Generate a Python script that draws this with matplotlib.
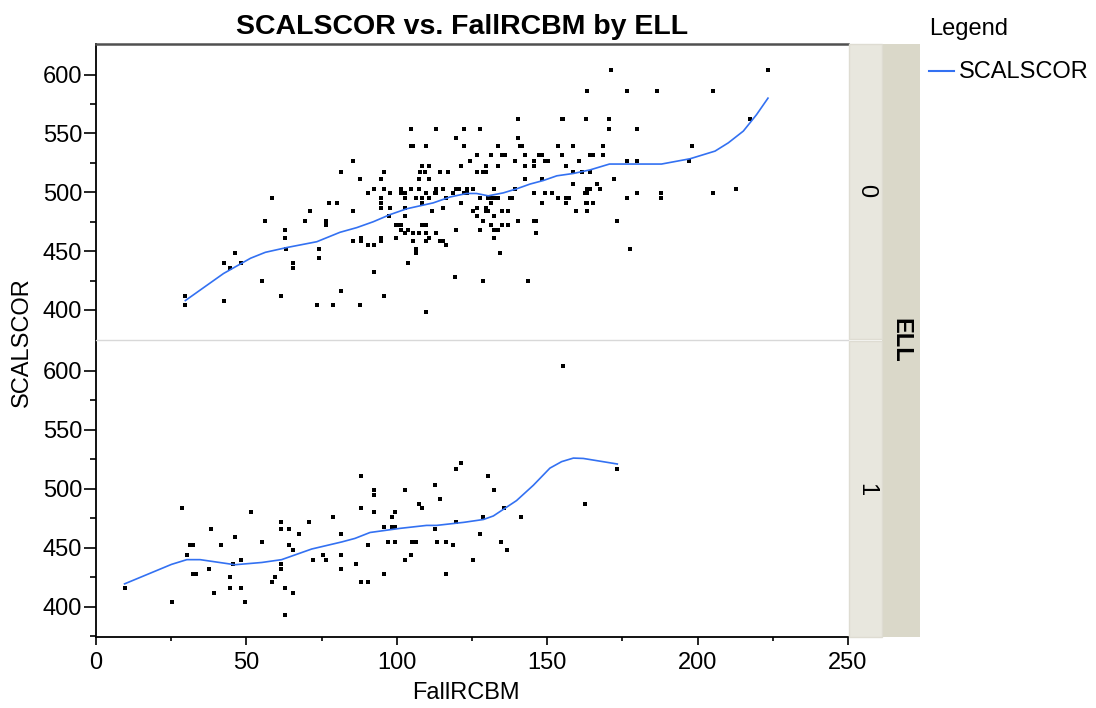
import numpy as np
import matplotlib.pyplot as plt
from matplotlib.ticker import MultipleLocator, FixedLocator
from matplotlib.patches import Rectangle

plt.rcParams['font.family'] = ['Liberation Sans', 'DejaVu Sans']

# ELL = 0 : SCALSCOR levels and the FallRCBM values at each level
y0_levels = [604, 586, 562, 554, 546, 539, 532, 527, 522, 517, 511, 507, 503, 499,
             495, 491, 487, 484, 480, 476, 472, 468, 465, 461, 459, 455, 452, 448,
             444, 440, 436, 432, 428, 425, 416, 412, 408, 404, 398]
x0_rows = [
    [171.2, 223.4],
    [163.2, 176.5, 186.6, 205.2],
    [140.4, 154.8, 155.3, 162.8, 170.7, 217.5],
    [104.7, 113.1, 122.3, 127.7, 170.7, 179.7],
    [119.7, 140.4],
    [104.7, 105.3, 109.6, 122.3, 133.5, 140.9, 141.5, 153.7, 158.5, 168.6, 198.3],
    [126.5, 131.3, 134.9, 135.9, 142.5, 147.3, 148.4, 154.8, 164.2, 165.3, 168.6],
    [85.5, 124.4, 139.3, 145.7, 149.4, 150.4, 160.6, 176.5, 179.7, 197.2],
    [108.5, 110.6, 121.2, 129.8, 133.5, 142.5, 145.7, 156.3],
    [81.3, 95.6, 107.7, 109.3, 114.4, 117.1, 126.5, 128.6, 129.8, 158.5, 161.7, 164.1],
    [87.7, 94.6, 107.4, 110.6, 142.5, 148.4, 172.3],
    [158.5, 166.4],
    [92.5, 95.6, 101.5, 104.7, 107.4, 113.1, 115.4, 119.7, 120.7, 123.3, 125.4, 132.4,
     139.3, 163.2, 164.2, 167.5, 212.6],
    [90.4, 97.6, 101.5, 102.6, 109.6, 112.6, 113.1, 118.6, 122.3, 123.3, 145.7, 149.4,
     151.6, 162.7, 163.2, 179.7, 187.7, 205.2],
    [58.4, 94.6, 102.6, 106.4, 108.5, 110.6, 116.5, 127.7, 130.4, 131.3, 132.4, 133.5,
     137.6, 138.2, 153.7, 156.3, 157.4, 176.5, 187.7],
    [77.6, 80.2, 94.6, 108.5, 121.2, 131.3, 148.4, 156.3, 162.8, 163.2, 165.3],
    [94.6, 97.6, 102.6, 115.4, 126.5, 129.7],
    [71.2, 85.5, 111.7, 125.4, 129.8, 130.4, 134.9, 137.0, 159.6, 163.2],
    [97.3, 102.6, 126.5, 132.4],
    [56.3, 69.6, 76.6, 128.6, 140.4, 145.7, 146.3, 173.3],
    [76.6, 99.6, 100.6, 101.5, 108.5, 109.6, 131.3, 134.9, 137.0],
    [62.7, 101.5, 103.7, 119.7, 127.7, 132.4, 133.5],
    [102.6, 105.3, 107.4, 109.6, 113.1, 146.3],
    [62.7, 88.2, 94.6, 99.6, 110.6, 132.4],
    [85.5, 88.2, 94.6, 105.3, 109.6, 114.3, 115.4],
    [90.4, 92.5, 116.5],
    [63.3, 74.3, 106.4, 177.5],
    [46.2, 106.4, 134.4],
    [74.3],
    [42.4, 48.3, 65.4, 103.7],
    [44.5, 65.4],
    [92.5],
    [119.4],
    [55.2, 128.6, 143.6],
    [81.3],
    [29.7, 61.6, 95.8],
    [42.4],
    [29.7, 73.4, 78.7, 87.7],
    [109.6],
]

# ELL = 1
y1_levels = [604, 522, 517, 511, 503, 499, 495, 491, 487, 484, 480, 476, 472, 468,
             466, 462, 459, 455, 452, 448, 444, 440, 436, 432, 428, 425, 421, 416,
             412, 404, 393]
x1_rows = [
    [155.1],
    [121.2],
    [119.6, 173.3],
    [88.2, 130.2],
    [112.7],
    [92.4, 102.6, 132.4],
    [92.4],
    [114.4],
    [107.4, 162.7],
    [28.6, 88.2, 108.5, 135.6],
    [51.5, 92.4, 99.4],
    [78.7, 98.3, 128.7, 141.4],
    [61.6, 70.7, 119.6],
    [95.6, 98.3, 99.4],
    [38.2, 61.6, 64.3, 112.7],
    [67.5, 81.3, 127.5],
    [46.2],
    [55.2, 97.2, 99.4, 105.2, 106.4, 113.2, 116.5, 134.5],
    [31.3, 32.3, 41.5, 64.3, 90.3, 118.6],
    [65.4, 136.6],
    [30.3, 75.5, 81.3, 104.7],
    [48.3, 72.2, 76.6, 102.6, 125.4],
    [45.6, 61.6, 86.6],
    [37.7, 61.6, 81.3],
    [32.3, 33.4, 95.6, 116.5],
    [44.5, 59.5],
    [58.4, 88.2, 90.3],
    [9.5, 44.5, 48.3, 62.7],
    [39.2, 65.4],
    [25.4, 49.4],
    [62.7],
]

# smoother curves
cx0 = [29.7, 42.4, 51.4, 56.3, 63.3, 73.4, 81.1, 86.7, 92.2, 97.7, 103.3, 112.1, 117.7,
       123.2, 126.5, 130.4, 135.4, 139.9, 144.3, 148.7, 153.2, 158.7, 164.2, 170.7,
       188.0, 197.5, 205.8, 210.2, 215.2, 219.6, 223.4]
cy0 = [408, 431, 444, 449, 453, 458, 466, 470, 475, 481, 486, 491, 496, 499, 499, 497,
       499.5, 503, 507, 510, 514, 516, 519, 524, 524, 528.5, 535, 542, 552, 566, 580]
cx1 = [9.5, 25.1, 30.2, 34.6, 46.2, 55.1, 61.7, 71.7, 81.7, 86.1, 91.1, 101.1, 109.9,
       113.2, 122.3, 128.8, 132.1, 139.8, 145.4, 150.9, 154.8, 158.7, 162.0, 173.3]
cy1 = [419.5, 436, 440, 440, 435.7, 437.6, 440, 449, 455, 458, 463, 466.5, 469, 469,
       471.6, 474, 477, 490, 503, 517.5, 523, 526, 525.7, 521]

x0 = np.concatenate(x0_rows)
y0 = np.repeat(y0_levels, [len(r) for r in x0_rows])
x1 = np.concatenate(x1_rows)
y1 = np.repeat(y1_levels, [len(r) for r in x1_rows])

W, H = 1096, 708
fig = plt.figure(figsize=(W / 100, H / 100), dpi=100)

def fx(px):
    return px / W

def fy(py):
    return 1 - py / H

ax0 = fig.add_axes([fx(96), fy(340), fx(848) - fx(96), fy(44) - fy(340)])
ax1 = fig.add_axes([fx(96), fy(637), fx(848) - fx(96), fy(340) - fy(637)], sharex=ax0)

line_col = '#3371F2'
fs = 17
for ax, xs, ys, cx, cy in [(ax0, x0, y0, cx0, cy0), (ax1, x1, y1, cx1, cy1)]:
    ax.plot(xs, ys, 's', color='black', markersize=2.4, markeredgewidth=0)
    ax.plot(cx, cy, color=line_col, lw=1.2)
    ax.set_ylim(374.5, 626)
    ax.set_xlim(0, 250)
    ax.yaxis.set_major_locator(MultipleLocator(50))
    ax.xaxis.set_major_locator(MultipleLocator(50))
    ax.xaxis.set_minor_locator(MultipleLocator(25))
    ax.tick_params(axis='y', which='major', direction='out', length=9, width=1.2,
                   pad=1, labelsize=fs)
    ax.tick_params(axis='y', which='minor', direction='out', length=4.5, width=1.2)
    ax.tick_params(axis='x', which='major', direction='out', length=6, width=1.2,
                   pad=5, labelsize=fs)
    ax.tick_params(axis='x', which='minor', direction='out', length=3, width=1.2)
    ax.spines['right'].set_visible(False)
    ax.spines['left'].set_linewidth(1.3)

ax0.yaxis.set_minor_locator(FixedLocator([425, 475, 525, 575]))
ax1.yaxis.set_minor_locator(FixedLocator([375, 425, 475, 525, 575]))

ax0.spines['top'].set_linewidth(1.8)
ax0.spines['top'].set_color('#505050')
ax0.spines['bottom'].set_visible(False)
ax0.tick_params(axis='x', which='both', bottom=False, labelbottom=False)
ax1.spines['top'].set_color('#D8D8D8')
ax1.spines['top'].set_linewidth(1.0)
ax1.spines['bottom'].set_linewidth(1.3)

# strips on the right
light, dark = '#E8E7DE', '#DAD8C9'
fig.patches.append(Rectangle((fx(882), fy(637)), fx(920) - fx(882), fy(44) - fy(637),
                             transform=fig.transFigure, facecolor=dark, edgecolor='none'))
for top, bot in [(44, 339), (341, 637)]:
    fig.patches.append(Rectangle((fx(849), fy(bot)), fx(882) - fx(849), fy(top) - fy(bot),
                                 transform=fig.transFigure, facecolor=light,
                                 edgecolor='#DEDCD2', lw=1.0))
fig.text(fx(866), fy(191), '0', rotation=-90, fontsize=fs, ha='center', va='center')
fig.text(fx(866), fy(490), '1', rotation=-90, fontsize=fs, ha='center', va='center')
fig.text(fx(901), fy(340), 'ELL', rotation=-90, fontsize=fs, fontweight='bold',
         ha='center', va='center')

fig.text(fx(462), fy(27), 'SCALSCOR vs. FallRCBM by ELL', fontsize=20.5,
         fontweight='bold', ha='center', va='center')
fig.text(fx(466), fy(693), 'FallRCBM', fontsize=fs, ha='center', va='center')
fig.text(fx(22), fy(342), 'SCALSCOR', fontsize=fs, rotation=90, ha='center', va='center')

# legend
fig.text(fx(929), fy(29), 'Legend', fontsize=fs, ha='left', va='center')
fig.add_artist(plt.Line2D([fx(929), fx(954)], [fy(71), fy(71)], color=line_col, lw=1.5,
                          transform=fig.transFigure))
fig.text(fx(959), fy(72), 'SCALSCOR', fontsize=fs, ha='left', va='center')

fig.savefig('out.png', dpi=100)
